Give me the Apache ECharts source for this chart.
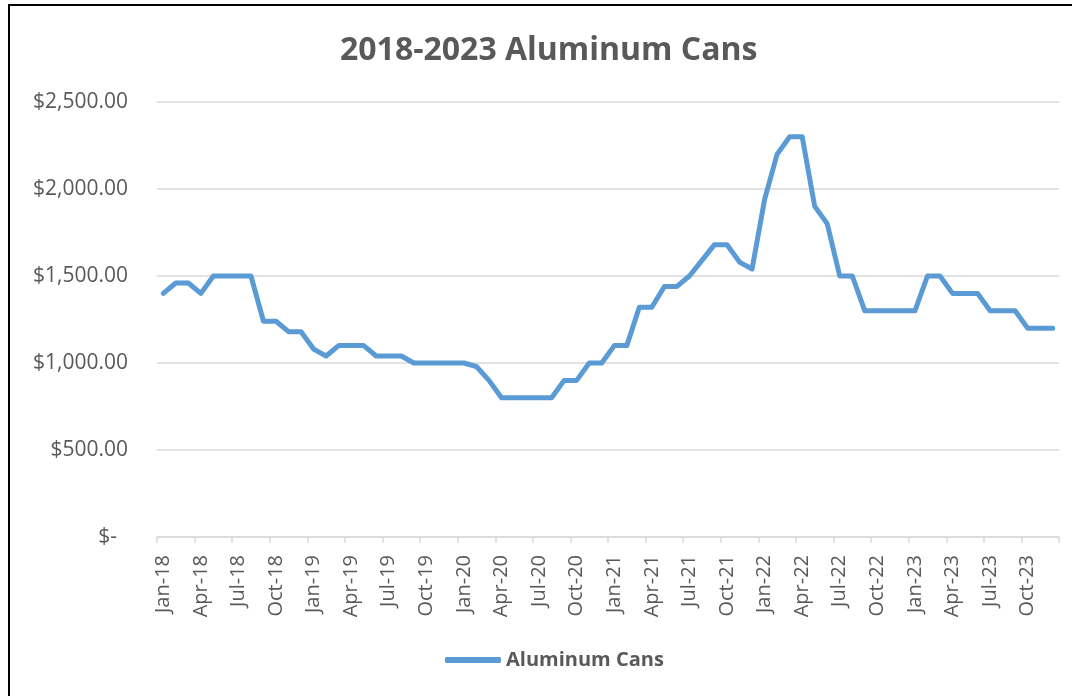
<!DOCTYPE html>
<html>
<head>
<meta charset="utf-8">
<script src="https://cdn.jsdelivr.net/npm/echarts@6/dist/echarts.min.js"></script>
<style>
html,body{margin:0;padding:0;background:#fff;}
#frame{position:absolute;left:8px;top:4px;width:1080px;height:720px;border-top:2px solid #000;border-left:2px solid #000;box-sizing:border-box;}
#chart{position:absolute;left:0;top:0;width:1072px;height:696px;}
</style>
</head>
<body>
<div id="frame"></div>
<div id="chart"></div>
<script>
const months = ['Jan','Feb','Mar','Apr','May','Jun','Jul','Aug','Sep','Oct','Nov','Dec'];
const years = ['18','19','20','21','22','23'];
const categories = [];
years.forEach(y => months.forEach(m => categories.push(m + '-' + y)));

const values2018 = [1400,1460,1460,1400,1500,1500,1500,1500,1240,1240,1180,1180];
const values2019 = [1080,1040,1100,1100,1100,1040,1040,1040,1000,1000,1000,1000];
const values2020 = [1000,980,900,800,800,800,800,800,900,900,1000,1000];
const values2021 = [1100,1100,1320,1320,1440,1440,1500,1590,1680,1680,1580,1540];
const values2022 = [1940,2200,2300,2300,1900,1800,1500,1500,1300,1300,1300,1300];
const values2023 = [1300,1500,1500,1400,1400,1400,1300,1300,1300,1200,1200,1200];
const seriesValues = [].concat(values2018, values2019, values2020, values2021, values2022, values2023);

const yTicks = [0, 500, 1000, 1500, 2000, 2500];
const seriesName = 'Aluminum Cans';
const titleText = '2018-2023 Aluminum Cans';

const chart = echarts.init(document.getElementById('chart'));
const font = 'Open Sans, Lato, sans-serif';
chart.setOption({
  animation: false,
  title: {
    text: titleText,
    left: 335,
    top: 30,
    textStyle: {fontFamily: font, fontSize: 32, fontWeight: 'bold', color: '#595959'}
  },
  legend: {
    bottom: 21,
    left: 440,
    data: [seriesName],
    itemWidth: 56,
    itemHeight: 6,
    itemGap: 6,
    icon: 'roundRect',
    textStyle: {fontFamily: font, fontSize: 20, fontWeight: 'bold', color: '#595959', padding: [0,0,0,0]}
  },
  grid: {left: 157, right: 13, top: 102, bottom: 159, containLabel: false},
  xAxis: {
    type: 'category',
    data: categories,
    boundaryGap: true,
    axisLine: {lineStyle: {color: '#D9D9D9', width: 1.5}},
    axisTick: {show: true, interval: 2, length: 6, lineStyle: {color: '#D9D9D9', width: 1.5}},
    axisLabel: {interval: 2, rotate: 90, fontFamily: font, fontSize: 20, color: '#595959', margin: 18}
  },
  yAxis: {
    type: 'value',
    min: yTicks[0],
    max: yTicks[yTicks.length - 1],
    interval: 500,
    axisLine: {show: false},
    axisTick: {show: false},
    splitLine: {lineStyle: {color: '#D9D9D9', width: 1.5}},
    axisLabel: {
      margin: 29,
      fontFamily: font,
      fontSize: 21,
      color: '#595959',
      formatter: v => v === 0 ? '{z|$-}' : '$' + v.toLocaleString('en-US', {minimumFractionDigits: 2, maximumFractionDigits: 2}),
      rich: {z: {fontFamily: font, fontSize: 21, color: '#595959', padding: [0, 11, 0, 0]}}
    }
  },
  series: [{
    name: seriesName,
    type: 'line',
    data: seriesValues,
    showSymbol: false,
    symbol: 'none',
    lineStyle: {color: '#5B9BD5', width: 5, cap: 'round', join: 'round'},
    itemStyle: {color: '#5B9BD5'}
  }]
});
</script>
</body>
</html>
